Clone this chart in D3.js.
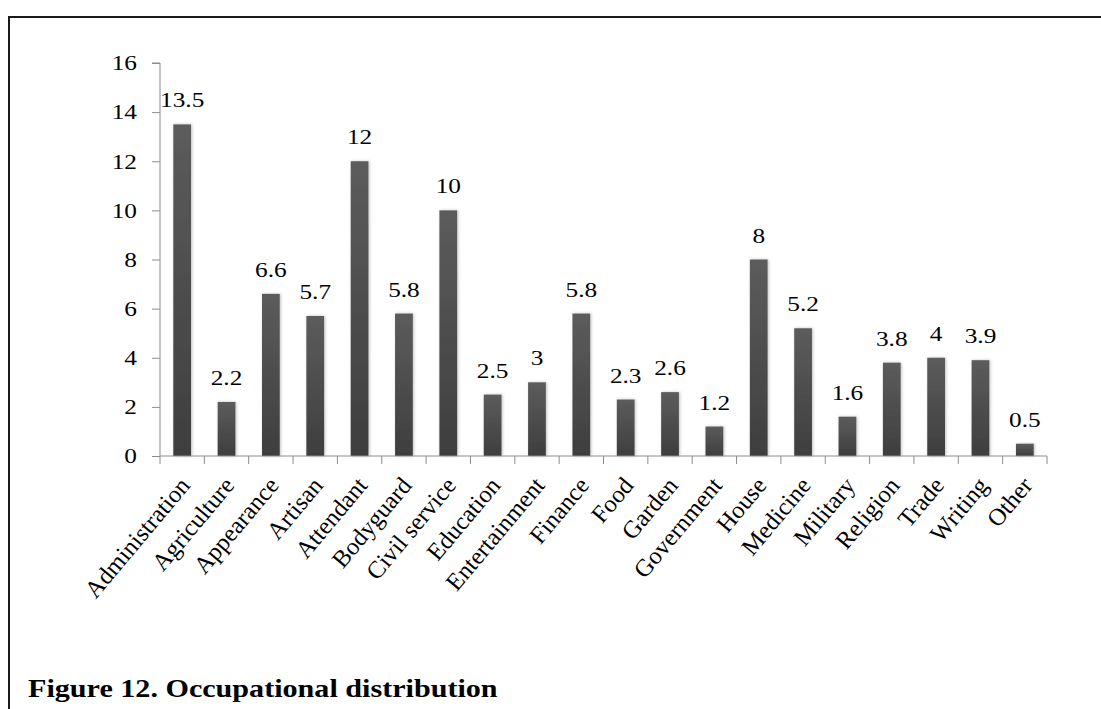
<!DOCTYPE html>
<html><head><meta charset="utf-8">
<script src="https://cdn.jsdelivr.net/npm/d3@7"></script>
<style>body{margin:0;background:#fff;}svg{display:block;}</style>
</head><body>
<svg id="c" width="1101" height="709"></svg>
<script>
const categories = ["Administration","Agriculture","Appearance","Artisan","Attendant","Bodyguard","Civil service","Education","Entertainment","Finance","Food","Garden","Government","House","Medicine","Military","Religion","Trade","Writing","Other"];
const values = [13.5,2.2,6.6,5.7,12,5.8,10,2.5,3,5.8,2.3,2.6,1.2,8,5.2,1.6,3.8,4,3.9,0.5];
const yTicks = [0,2,4,6,8,10,12,14,16];
const title = "Figure 12. Occupational distribution";

(function(){
const svg = d3.select("#c");
const font = "'Liberation Serif','Times New Roman',serif";
const sx = 1.15, fs = 22;
const defs = svg.append("defs");
const g = defs.append("linearGradient").attr("id","bg").attr("x1",0).attr("y1",0).attr("x2",0).attr("y2",1);
g.append("stop").attr("offset","0%").attr("stop-color","#5c5c5c");
g.append("stop").attr("offset","100%").attr("stop-color","#3e3e3e");
const f = defs.append("filter").attr("id","sh").attr("x","-50%").attr("y","-10%").attr("width","200%").attr("height","120%");
f.append("feDropShadow").attr("dx",1).attr("dy",0).attr("stdDeviation",1.5).attr("flood-color","#000").attr("flood-opacity",0.25);

// frame
svg.append("path").attr("d","M9,709 V17 H1101").attr("fill","none").attr("stroke","#1a1a1a").attr("stroke-width",2);

const mL = 160, mR = 1047, mT = 63, mB = 456;
const x = d3.scaleBand().domain(categories).range([mL,mR]).paddingInner(0.6).paddingOuter(0.3);
const xb = d3.scaleBand().domain(categories).range([mL,mR]);
const y = d3.scaleLinear().domain([0,16]).range([mB,mT]);

// y axis
const ya = svg.append("g").attr("transform",`translate(${mL},0)`)
  .call(d3.axisLeft(y).tickValues(yTicks).tickSize(8).tickFormat(""));
ya.select(".domain").attr("stroke","#8c8c8c").attr("d",`M-8,${mT}H0V${mB}`);
ya.selectAll(".tick line").attr("stroke","#8c8c8c");
svg.append("g").selectAll("text").data(yTicks).join("text")
  .attr("transform",d=>`translate(137,${y(d)}) scale(${sx},1)`)
  .attr("dy","0.33em").attr("text-anchor","end")
  .attr("font-family",font).attr("font-size",fs).attr("fill","#000")
  .text(d=>d);

// bars
svg.append("g").selectAll("rect").data(values).join("rect")
  .attr("x",(d,i)=>x(categories[i]))
  .attr("width",x.bandwidth())
  .attr("y",d=>y(d))
  .attr("height",d=>mB-y(d))
  .attr("fill","url(#bg)")
  .attr("filter","url(#sh)");

// x axis
const xa = svg.append("g");
xa.append("line").attr("x1",mL).attr("x2",mR).attr("y1",mB).attr("y2",mB).attr("stroke","#8c8c8c");
xa.selectAll("line.t").data(categories).join("line").attr("class","t")
  .attr("x1",d=>xb(d)).attr("x2",d=>xb(d)).attr("y1",mB).attr("y2",mB+8).attr("stroke","#8c8c8c");
xa.append("line").attr("x1",mR).attr("x2",mR).attr("y1",mB).attr("y2",mB+8).attr("stroke","#8c8c8c");

// category labels
svg.append("g").selectAll("text").data(categories).join("text")
  .attr("transform",d=>`translate(${xb(d)+xb.bandwidth()/2+9},${mB+30}) rotate(-50)`)
  .attr("text-anchor","end")
  .attr("font-family",font).attr("font-size",24.5).attr("fill","#000")
  .text(d=>d);

// value labels
svg.append("g").selectAll("text").data(values).join("text")
  .attr("transform",(d,i)=>`translate(${x(categories[i])+x.bandwidth()/2},${y(d)-17}) scale(${sx},1)`)
  .attr("text-anchor","middle")
  .attr("font-family",font).attr("font-size",fs).attr("fill","#000")
  .text(d=>d);

// title
svg.append("text").attr("transform",`translate(28,697) scale(${sx},1)`)
  .attr("font-family",font).attr("font-size",26.2).attr("font-weight","bold").attr("fill","#000")
  .text(title);
})();
</script>
</body></html>
